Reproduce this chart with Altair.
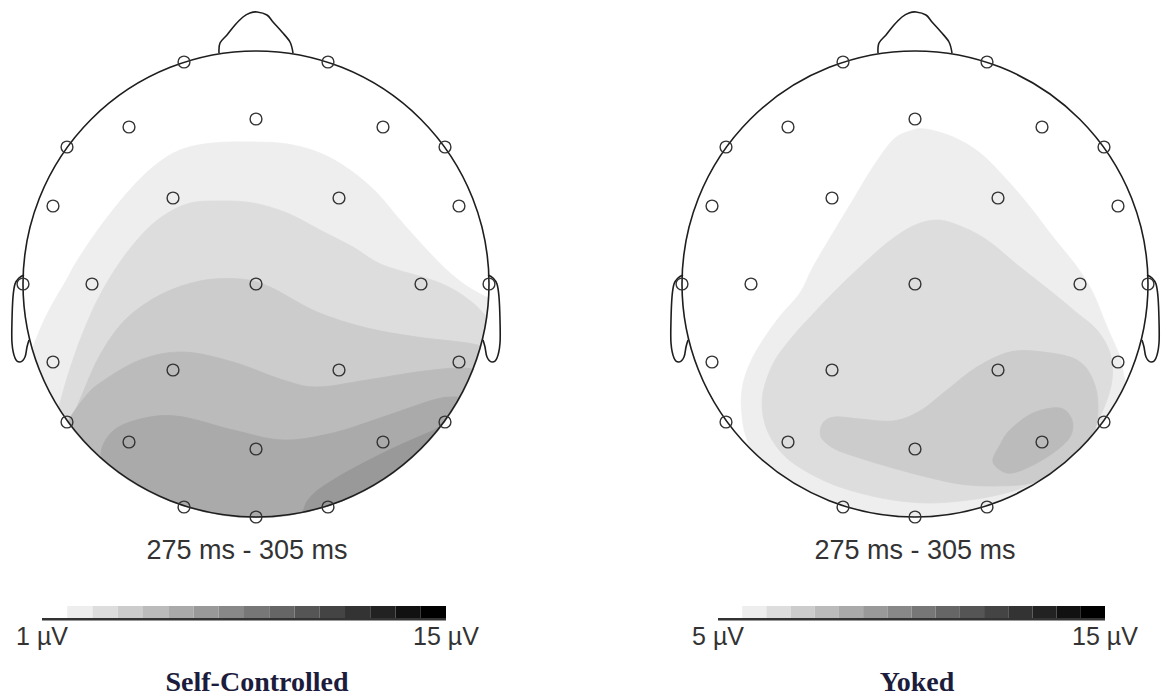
import altair as alt
import pandas as pd

W, H = 1169, 696

# ---------------- panels ----------------
panel_names = ["Self-Controlled", "Yoked"]
head_cx = [256, 915]
head_cy = [284, 284]
head_r = 233
time_label = "275 ms - 305 ms"
time_label_x = [247, 915]
title_x = [257, 917]

# electrode sites (pixels relative to head centre)
elec_dx = [-72, 72, -127, 0, 127, -189, 189, -83, 83, -203, 203,
           -233, -164, 0, 165, 233, -203, 203, -83, 83, -189, 189,
           -127, 0, 127, -72, 72, 0]
elec_dy = [-222, -222, -157, -165, -157, -137, -137, -86, -86, -78, -78,
           0, 0, 0, 0, 0, 78, 78, 86, 86, 138, 138,
           158, 165, 158, 223, 223, 233]

# nose and (left) ear outlines, relative to head centre
nose_dx = [-37, -36, -29, -21, -13, -6, 1, 11, 17, 26, 34, 37]
nose_dy = [-231, -241, -249, -259, -267, -271, -272, -269, -262, -252, -242, -231]
ear_dx = [-232, -237, -241, -243, -244, -244, -241, -236, -231, -229, -227]
ear_dy = [-9, -6, 0, 13, 36, 59, 74, 78, 73, 63, 56]

# ---------------- contour boundaries (pixels) ----------------
# Self-Controlled: bands open toward the back of the head
sc_band_colors = ["#eeeeee", "#dddddd", "#cccccc", "#bbbbbb", "#aaaaaa", "#999999"]
sc_bounds = [
    [(28, 360), (42, 325), (53, 303), (66, 281), (77, 261), (100, 227), (127, 193), (153, 167),
     (180, 150), (213, 143), (253, 142), (287, 144), (320, 153), (350, 170), (377, 193),
     (400, 220), (427, 250), (450, 273), (473, 290), (500, 302)],
    [(48, 440), (58, 410), (68, 375), (82, 335), (100, 295), (125, 255), (155, 222), (187, 204),
     (220, 201), (253, 203), (287, 213), (320, 230), (353, 247), (383, 265), (440, 283),
     (473, 303), (500, 330)],
    [(55, 470), (68, 430), (82, 395), (100, 355), (125, 320), (160, 295), (200, 281), (240, 279),
     (270, 287), (317, 312), (367, 328), (417, 337), (467, 343), (500, 350)],
    [(60, 440), (70, 418), (85, 397), (100, 383), (140, 360), (183, 352), (233, 362), (283, 380),
     (317, 387), (367, 380), (417, 372), (457, 368), (485, 370)],
    [(118, 490), (104, 468), (102, 448), (117, 428), (150, 417), (183, 417), (233, 430),
     (283, 440), (333, 433), (383, 417), (433, 400), (453, 397), (470, 398)],
    [(300, 525), (308, 500), (333, 480), (383, 453), (430, 432), (450, 425)],
]

# Yoked: outer band open toward the back, inner bands closed blobs
yk_band_colors = ["#eeeeee", "#dddddd", "#cccccc", "#bbbbbb"]
yk_outer = [(830, 520), (805, 502), (783, 485), (763, 467), (750, 447), (743, 423), (742, 390),
            (753, 357), (777, 320), (800, 293), (813, 267), (833, 233), (853, 200), (873, 167),
            (893, 140), (910, 131), (925, 129), (953, 137), (980, 153), (1007, 180), (1030, 207),
            (1053, 237), (1077, 267), (1093, 293), (1107, 327), (1120, 357), (1125, 380),
            (1135, 392)]
yk_blobs = [
    [(813, 314), (793, 336), (774, 362), (763, 393), (764, 420), (774, 443), (793, 463),
     (827, 482), (860, 493), (893, 500), (927, 503), (960, 501), (993, 496), (1027, 486),
     (1060, 467), (1087, 438), (1103, 410), (1112, 380), (1110, 353), (1097, 330),
     (1077, 313), (1053, 293), (1020, 267), (987, 240), (960, 226), (937, 220), (913, 226),
     (887, 243), (860, 267), (835, 291)],
    [(823, 423), (835, 417), (860, 419), (893, 421), (920, 411), (947, 390), (977, 367),
     (1010, 352), (1043, 352), (1077, 360), (1093, 380), (1098, 407), (1093, 437),
     (1077, 460), (1053, 476), (1027, 484), (993, 486), (960, 484), (927, 477), (893, 468),
     (860, 458), (835, 449), (821, 437)],
    [(993, 462), (1000, 445), (1010, 430), (1033, 413), (1060, 408), (1072, 420), (1070, 437),
     (1053, 453), (1027, 468), (1007, 473)],
]

# ---------------- colour bars ----------------
bar_x0 = [42, 718]
bar_x1 = [446, 1105]
bar_top, bar_bottom = 606, 618
bar_colors = ["#ffffff", "#eeeeee", "#dddddd", "#cccccc", "#bbbbbb", "#aaaaaa", "#999999",
              "#888888", "#777777", "#666666", "#555555", "#444444", "#333333", "#222222",
              "#111111", "#000000"]
bar_low_labels = ["1 µV", "5 µV"]
bar_high_labels = ["15 µV", "15 µV"]

# ---------------- chart ----------------
X = alt.X("x:Q", scale=alt.Scale(domain=[0, W], nice=False, zero=False), axis=None)
Y = alt.Y("y:Q", scale=alt.Scale(domain=[0, H], nice=False, zero=False, reverse=True), axis=None)
X2 = alt.X2("x2:Q")
Y2 = alt.Y2("y2:Q")


def path_df(pts):
    return pd.DataFrame({"x": [p[0] for p in pts], "y": [p[1] for p in pts],
                         "i": list(range(len(pts)))})


def close_band(pts, cx, cy, reach=265):
    (x0, y0), (x1, y1) = pts[0], pts[-1]
    return pts + [(cx + reach, y1), (cx + reach, cy + reach), (cx - reach, cy + reach),
                  (cx - reach, y0)]


def filled(pts, color, interp):
    return alt.Chart(path_df(pts)).mark_line(
        fill=color, stroke=color, strokeWidth=0.8, interpolate=interp
    ).encode(x=X, y=Y, order="i:Q")


layers = []
cx, cy = head_cx[0], head_cy[0]
for col, b in zip(sc_band_colors, sc_bounds):
    layers.append(filled(close_band(b, cx, cy), col, "cardinal"))
cx, cy = head_cx[1], head_cy[1]
layers.append(filled(close_band(yk_outer, cx, cy), yk_band_colors[0], "cardinal"))
for col, b in zip(yk_band_colors[1:], yk_blobs):
    layers.append(filled(b, col, "cardinal-closed"))

centers = pd.DataFrame({"x": head_cx, "y": head_cy})
mask_w = 170
layers.append(alt.Chart(centers).mark_point(
    shape="circle", filled=False, stroke="white", strokeWidth=mask_w, opacity=1,
    size=(2 * (head_r + 1) + mask_w) ** 2).encode(x=X, y=Y))
layers.append(alt.Chart(centers).mark_point(
    shape="circle", filled=False, stroke="#1e1e1e", strokeWidth=1.6, opacity=1,
    size=(2 * head_r) ** 2).encode(x=X, y=Y))

# nose + ears
rows = []
for h, (hx, hy) in enumerate(zip(head_cx, head_cy)):
    for i, (dx, dy) in enumerate(zip(nose_dx, nose_dy)):
        rows.append({"part": f"nose{h}", "i": i, "x": hx + dx, "y": hy + dy})
    for i, (dx, dy) in enumerate(zip(ear_dx, ear_dy)):
        rows.append({"part": f"earL{h}", "i": i, "x": hx + dx, "y": hy + dy})
        rows.append({"part": f"earR{h}", "i": i, "x": hx - dx, "y": hy + dy})
layers.append(alt.Chart(pd.DataFrame(rows)).mark_line(
    stroke="#1e1e1e", strokeWidth=1.6, interpolate="cardinal"
).encode(x=X, y=Y, detail="part:N", order="i:Q"))

# electrodes
erows = [{"x": hx + dx, "y": hy + dy}
         for hx, hy in zip(head_cx, head_cy) for dx, dy in zip(elec_dx, elec_dy)]
layers.append(alt.Chart(pd.DataFrame(erows)).mark_point(
    shape="circle", filled=False, stroke="#333333", strokeWidth=1.4, opacity=1, size=140
).encode(x=X, y=Y))

# colour bars
brows = []
for x0, x1 in zip(bar_x0, bar_x1):
    n = len(bar_colors)
    step = (x1 - x0) / n
    for k, c in enumerate(bar_colors):
        brows.append({"x": x0 + k * step, "x2": x0 + (k + 1) * step,
                      "y": bar_top, "y2": bar_bottom, "c": c})
layers.append(alt.Chart(pd.DataFrame(brows)).mark_rect().encode(
    x=X, x2=X2, y=Y, y2=Y2, fill=alt.Fill("c:N", scale=None)))
lrows = [{"x": x0, "x2": x1, "y": bar_bottom + 1.2} for x0, x1 in zip(bar_x0, bar_x1)]
layers.append(alt.Chart(pd.DataFrame(lrows)).mark_rule(
    color="#333333", strokeWidth=2.5).encode(x=X, x2=X2, y=Y))

# texts
trows = []
for i in range(2):
    trows.append({"x": time_label_x[i], "y": 559, "t": time_label, "kind": "time"})
    trows.append({"x": bar_x0[i], "y": 645, "t": bar_low_labels[i], "kind": "lab"})
    trows.append({"x": bar_x1[i], "y": 645, "t": bar_high_labels[i], "kind": "lab"})
tdf = pd.DataFrame(trows)
layers.append(alt.Chart(tdf[tdf.kind == "time"]).mark_text(
    font="Liberation Sans", fontSize=27, color="#333333", align="center", baseline="alphabetic"
).encode(x=X, y=Y, text="t:N"))
layers.append(alt.Chart(tdf[tdf.kind == "lab"]).mark_text(
    font="Liberation Sans", fontSize=25, color="#333333", align="center", baseline="alphabetic"
).encode(x=X, y=Y, text="t:N"))
ttl = pd.DataFrame({"x": title_x, "y": [691, 691], "t": panel_names})
layers.append(alt.Chart(ttl).mark_text(
    font="Liberation Serif", fontSize=28, fontWeight="bold", color="#1c1c3c",
    align="center", baseline="alphabetic"
).encode(x=X, y=Y, text="t:N"))

chart = alt.layer(*layers).properties(
    width=W, height=H, padding=0, autosize=alt.AutoSizeParams(type="none")
).configure_view(stroke=None)

chart.save("out.html", embed_options={"renderer": "svg", "actions": False})
